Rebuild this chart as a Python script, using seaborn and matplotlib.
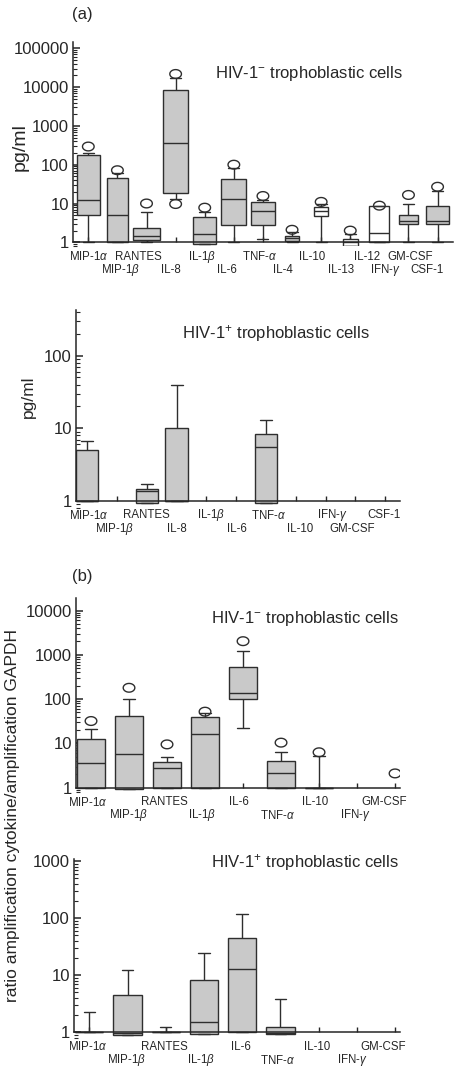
import numpy as np
import matplotlib
matplotlib.use("Agg")
import matplotlib.pyplot as plt
import matplotlib.path as mpath
from matplotlib.ticker import FixedLocator, LogLocator, NullFormatter, FuncFormatter
import seaborn as sns

nan = np.nan

# (a) HIV-1 negative trophoblastic cells, pg/ml
a_neg_cyto = ['MIP-1α', 'MIP-1β', 'RANTES', 'IL-8', 'IL-1β', 'IL-6', 'TNF-α',
              'IL-4', 'IL-10', 'IL-13', 'IL-12', 'GM-CSF', 'CSF-1']
a_neg_low = [1, 1, 1, 12.8, 0.9, 1, 1.2, 1, 1, 0.8, 1, 1, 1]
a_neg_q1 = [5.1, 1, 1.15, 19, 0.9, 2.8, 2.8, 1.08, 4.9, 0.8, 1, 3.0, 3.0]
a_neg_med = [12.5, 5.1, 1.45, 370, 1.6, 13.3, 6.5, 1.27, 6.3, 1.0, 1.77, 3.6, 3.5]
a_neg_q3 = [175, 46, 2.4, 8500, 4.6, 42, 10.7, 1.48, 7.9, 1.19, 8.7, 5.1, 8.8]
a_neg_high = [200, 60, 6.0, 17000, 6.2, 80, 12.3, 1.85, 10, 1.6, 8.7, 10, 21]
a_neg_out_cyto = ['MIP-1α', 'MIP-1β', 'RANTES', 'IL-8', 'IL-8', 'IL-1β', 'IL-6',
                  'TNF-α', 'IL-4', 'IL-10', 'IL-13', 'IL-12', 'GM-CSF', 'CSF-1']
a_neg_out_val = [294, 72, 10, 21800, 9.7, 7.8, 100, 15.6, 2.1, 11, 2.0, 8.8, 16.6, 27]
a_neg_labels = ['MIP-1α', 'MIP-1β', 'RANTES', 'IL-8', 'IL-1β', 'IL-6', 'TNF-α',
                'IL-4', 'IL-10', 'IL-13', 'IL-12', 'IFN-γ', 'GM-CSF', 'CSF-1']

# (a) HIV-1 positive trophoblastic cells, pg/ml
a_pos_cyto = ['MIP-1α', 'MIP-1β', 'RANTES', 'IL-8', 'IL-1β', 'IL-6', 'TNF-α',
              'IL-10', 'IFN-γ', 'GM-CSF', 'CSF-1']
a_pos_low = [1, nan, 0.95, 1, nan, nan, 0.95, nan, nan, nan, nan]
a_pos_q1 = [1, nan, 0.95, 1, nan, nan, 0.95, nan, nan, nan, nan]
a_pos_med = [1, nan, 1.37, 1, nan, nan, 5.6, nan, nan, nan, nan]
a_pos_q3 = [5.0, nan, 1.45, 10.2, nan, nan, 8.3, nan, nan, nan, nan]
a_pos_high = [6.7, nan, 1.7, 40, nan, nan, 13, nan, nan, nan, nan]
a_pos_out_cyto = []
a_pos_out_val = []

# (b) HIV-1 negative, ratio cytokine / GAPDH
b_cyto = ['MIP-1α', 'MIP-1β', 'RANTES', 'IL-1β', 'IL-6', 'TNF-α', 'IL-10',
          'IFN-γ', 'GM-CSF']
b_neg_low = [1, 0.92, 1, 1, 22.6, 1, 1, nan, nan]
b_neg_q1 = [1, 0.92, 1, 1, 101, 1, 1, nan, nan]
b_neg_med = [3.7, 5.9, 2.8, 16, 139, 2.2, 1, nan, nan]
b_neg_q3 = [12.7, 42, 3.9, 40, 520, 4.0, 1, nan, nan]
b_neg_high = [21, 102, 5.0, 49, 1250, 6.5, 5.2, nan, nan]
b_neg_out_cyto = ['MIP-1α', 'MIP-1β', 'RANTES', 'IL-1β', 'IL-6', 'TNF-α', 'IL-10', 'GM-CSF']
b_neg_out_val = [32, 180, 9.5, 52, 2030, 10.4, 6.3, 2.1]

# (b) HIV-1 positive, ratio cytokine / GAPDH
b_pos_low = [1, 0.9, 1, 0.93, 1, 0.92, nan, nan, nan]
b_pos_q1 = [1, 0.9, 1, 0.93, 1, 0.92, nan, nan, nan]
b_pos_med = [1, 0.99, 1, 1.5, 13.1, 0.99, nan, nan, nan]
b_pos_q3 = [1, 4.5, 1, 8.1, 44, 1.24, nan, nan, nan]
b_pos_high = [2.24, 12.1, 1.26, 24, 119, 3.9, nan, nan, nan]
b_pos_out_cyto = []
b_pos_out_val = []

GREY = '#c9c9c9'
EDGE = '#2e2e2e'
FIG_W, FIG_H = 458, 1070
YMIN = 0.78

sns.set_style('ticks')
plt.rcParams['font.family'] = ['Liberation Sans', 'DejaVu Sans']
plt.rcParams['mathtext.fontset'] = 'custom'
plt.rcParams['mathtext.rm'] = 'Liberation Sans'
plt.rcParams['mathtext.it'] = 'Liberation Sans:italic'
plt.rcParams['axes.linewidth'] = 1.1


def tex(name):
    for g, t in (('α', r'$\alpha$'), ('β', r'$\beta$'), ('γ', r'$\gamma$')):
        name = name.replace(g, t)
    return name


# hollow flattened circle for the outliers
th = np.linspace(0, 2 * np.pi, 60)
ellipse = mpath.Path(np.column_stack([np.cos(th), 0.75 * np.sin(th)]), closed=True)

fig = plt.figure(figsize=(FIG_W / 100, FIG_H / 100), dpi=100)


def add_panel(left, right, top, axis_y, decade):
    ymax = 10 ** ((axis_y - top) / decade)
    bottom = axis_y + decade * np.log10(1 / YMIN)
    ax = fig.add_axes([left / FIG_W, 1 - bottom / FIG_H,
                       (right - left) / FIG_W, (bottom - top) / FIG_H])
    ax.set_yscale('log')
    ax.set_ylim(YMIN, ymax)
    return ax, ymax


def draw_panel(ax, ymax, cyto, low, q1, med, q3, high, widths, fills, capw,
               out_cyto, out_val, xlim, yticks, labels, label_x, label_row):
    for i in range(len(cyto)):
        if np.isnan(q1[i]):
            continue
        vals = [low[i], q1[i], med[i], q3[i], high[i]]
        # whiskers run from min to max of the five-number summary
        sns.boxplot(x=[i] * 5, y=vals, native_scale=True, orient='x',
                    width=widths[i], whis=(0, 100), color=fills[i], saturation=1,
                    linecolor=EDGE, linewidth=1.0, capwidths=capw, ax=ax)
    if out_cyto:
        sns.scatterplot(x=[cyto.index(c) for c in out_cyto], y=out_val,
                        marker=ellipse, s=70, facecolor='none', edgecolor=EDGE,
                        linewidth=1.0, ax=ax, legend=False, zorder=5)
    ax.set_xlim(*xlim)
    ax.set_ylim(YMIN, ymax)
    ax.set_xlabel('')
    ax.set_ylabel('')
    sns.despine(ax=ax)
    ax.spines['bottom'].set_position(('data', 1))
    ax.spines['left'].set_bounds(1, ymax)
    ax.set_xticks(range(len(cyto)))
    ax.set_xticklabels([])
    ax.yaxis.set_major_locator(FixedLocator(yticks))
    ax.yaxis.set_major_formatter(FuncFormatter(lambda v, p: f'{v:g}'))
    ax.yaxis.set_minor_locator(LogLocator(base=10, subs=np.arange(2, 10)))
    ax.yaxis.set_minor_formatter(NullFormatter())
    ax.tick_params(axis='x', direction='in', length=3.5, width=1.0)
    ax.tick_params(axis='y', which='major', direction='in', length=5, width=1.1,
                   labelsize=12, pad=3)
    ax.tick_params(axis='y', which='minor', direction='in', length=3, width=0.8)
    for name, xp, row in zip(labels, label_x, label_row):
        ax.annotate(tex(name), xy=(xp, 1), xycoords='data',
                    xytext=(0, -10.4 - 9.6 * row), textcoords='offset points',
                    ha='center', va='center', fontsize=8.3, annotation_clip=False)


# panel 1
ax1, ym1 = add_panel(73, 453, 42, 242.3, 38.8)
fills1 = ['white' if c in ('IL-10', 'IL-13', 'IL-12') else GREY for c in a_neg_cyto]
widths1 = [0.8, 0.71, 0.9, 0.86, 0.8, 0.86, 0.82, 0.46, 0.48, 0.53, 0.69, 0.66, 0.8]
draw_panel(ax1, ym1, a_neg_cyto, a_neg_low, a_neg_q1, a_neg_med, a_neg_q3, a_neg_high,
           widths1, fills1, 0.38, a_neg_out_cyto, a_neg_out_val, (-0.526, 12.53),
           [1, 10, 100, 1000, 10000, 100000], a_neg_labels,
           [0, 1.09, 1.72, 2.84, 3.9, 4.77, 5.87, 6.69, 7.69, 8.67, 9.57, 10.22, 11.05, 11.63],
           [0, 1] * 7)

# panel 2
ax2, ym2 = add_panel(76, 400, 310, 501, 72.7)
draw_panel(ax2, ym2, a_pos_cyto, a_pos_low, a_pos_q1, a_pos_med, a_pos_q3, a_pos_high,
           [0.75] * 11, [GREY] * 11, 0.4, a_pos_out_cyto, a_pos_out_val, (-0.38, 10.5),
           [1, 10, 100], a_pos_cyto,
           [0.06, 0.9, 1.99, 3.0, 4.15, 5.04, 6.08, 7.14, 8.23, 8.9, 9.97],
           [0, 1, 0, 1, 0, 1, 0, 1, 0, 1, 0])

# panel 3
ax3, ym3 = add_panel(76, 400, 598, 787.7, 44.3)
draw_panel(ax3, ym3, b_cyto, b_neg_low, b_neg_q1, b_neg_med, b_neg_q3, b_neg_high,
           [0.76] * 9, [GREY] * 9, 0.32, b_neg_out_cyto, b_neg_out_val, (-0.395, 8.13),
           [1, 10, 100, 1000, 10000], b_cyto,
           [-0.09, 0.98, 1.92, 2.91, 3.88, 4.9, 5.9, 6.95, 7.71],
           [0, 1, 0, 1, 0, 1, 0, 1, 0])

# panel 4
ax4, ym4 = add_panel(74, 400, 859, 1032.3, 57.1)
draw_panel(ax4, ym4, b_cyto, b_pos_low, b_pos_q1, b_pos_med, b_pos_q3, b_pos_high,
           [0.74] * 9, [GREY] * 9, 0.3, b_pos_out_cyto, b_pos_out_val, (-0.4, 8.13),
           [1, 10, 100, 1000], b_cyto,
           [-0.03, 0.98, 1.96, 2.92, 3.96, 4.92, 5.95, 6.87, 7.7],
           [0, 1, 0, 1, 0, 1, 0, 1, 0])


def fx(px):
    return px / FIG_W


def fy(py):
    return 1 - py / FIG_H


fig.text(fx(72), fy(19), '(a)', fontsize=12, va='baseline')
fig.text(fx(72), fy(580.7), '(b)', fontsize=12, va='baseline')
fig.text(fx(215), fy(77.7), r'HIV-1$^{-}$ trophoblastic cells', fontsize=12, va='baseline')
fig.text(fx(181.7), fy(338.3), r'HIV-1$^{+}$ trophoblastic cells', fontsize=12, va='baseline')
fig.text(fx(210.7), fy(622.7), r'HIV-1$^{-}$ trophoblastic cells', fontsize=12, va='baseline')
fig.text(fx(210.7), fy(867.7), r'HIV-1$^{+}$ trophoblastic cells', fontsize=12, va='baseline')
fig.text(fx(20), fy(147), 'pg/ml', rotation=90, fontsize=14, ha='center', va='center')
fig.text(fx(28), fy(397), 'pg/ml', rotation=90, fontsize=12.5, ha='center', va='center')
fig.text(fx(13), fy(815), 'ratio amplification cytokine/amplification GAPDH',
         rotation=90, fontsize=12.5, ha='center', va='center')

fig.savefig('out.png', dpi=100, facecolor='white')
